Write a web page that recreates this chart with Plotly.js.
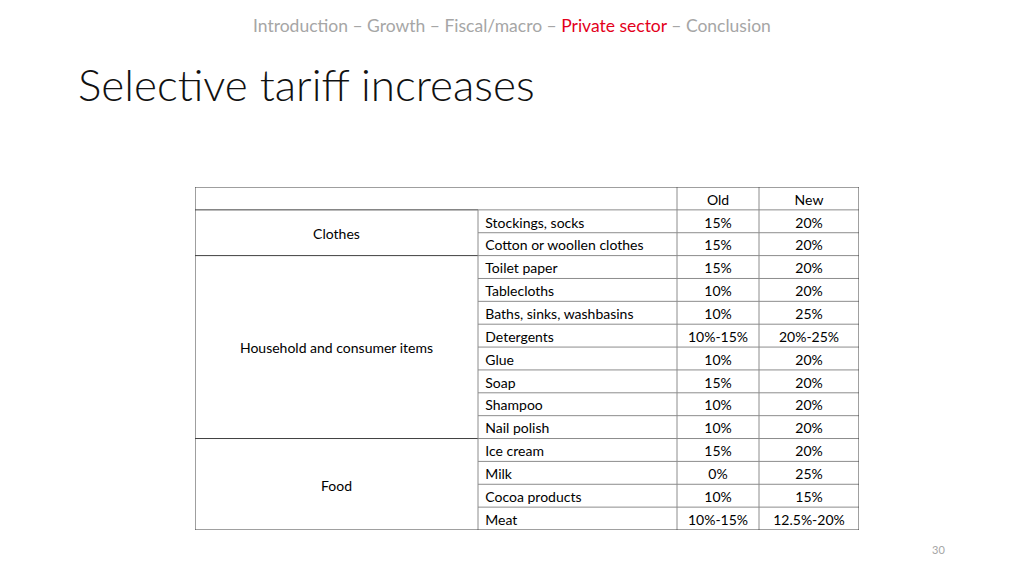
<!DOCTYPE html>
<html>
<head>
<meta charset="utf-8">
<script src="https://cdn.plot.ly/plotly-3.0.1.min.js"></script>
<style>html,body{margin:0;padding:0;background:#fff;}#chart{width:1024px;height:576px;}</style>
</head>
<body>
<div id="chart"></div>
<script>
// ---- data ----
const headerLabels = ["", "Old", "New"];
const groups = ["Clothes", "Household and consumer items", "Food"];
const groupSizes = [2, 8, 4];
const items = ["Stockings, socks", "Cotton or woollen clothes", "Toilet paper", "Tablecloths",
  "Baths, sinks, washbasins", "Detergents", "Glue", "Soap", "Shampoo", "Nail polish",
  "Ice cream", "Milk", "Cocoa products", "Meat"];
const oldRates = ["15%", "15%", "15%", "10%", "10%", "10%-15%", "10%", "15%", "10%", "10%",
  "15%", "0%", "10%", "10%-15%"];
const newRates = ["20%", "20%", "20%", "20%", "25%", "20%-25%", "20%", "20%", "20%", "20%",
  "20%", "25%", "15%", "12.5%-20%"];

// ---- layout (column edges as fractions of table width) ----
const colEdges = [0, 0.4262, 0.7259, 0.8494, 1];
const nRows = items.length + 1;
const FONT = "Lato, 'Open Sans', sans-serif";
const inner = "#8c8c8c", outer = "#404040";
const TEXT_SHIFT = 0.62; // text centre within a row (fraction from the row's top)

const shapes = [];
function hline(y, x0, x1, c) { shapes.push({type:"line", xref:"x", yref:"y", x0:x0, x1:x1, y0:y, y1:y, line:{color:c, width:1}}); }
function vline(x, y0, y1, c) { shapes.push({type:"line", xref:"x", yref:"y", x0:x, x1:x, y0:y0, y1:y1, line:{color:c, width:1}}); }

for (let r = 1; r < nRows; r++) hline(r, colEdges[1], colEdges[4], inner);
let cum = 1;
const groupMid = [];
groupSizes.forEach((s) => {
  groupMid.push(cum + s / 2 + (TEXT_SHIFT - 0.5));
  hline(cum, colEdges[0], colEdges[1], outer);
  cum += s;
});
vline(colEdges[1], 1, nRows, inner);
vline(colEdges[2], 0, nRows, inner);
vline(colEdges[3], 0, nRows, inner);
shapes.push({type:"rect", xref:"x", yref:"y", x0:0, x1:1, y0:0, y1:nRows, line:{color:outer, width:1}});

const rowMid = items.map((_, i) => i + 1 + TEXT_SHIFT);
const c2 = (colEdges[2] + colEdges[3]) / 2, c3 = (colEdges[3] + colEdges[4]) / 2;
const txtFont = {family: FONT, size: 14, color: "#000"};

const traces = [
  {type:"scatter", mode:"text", x: groupMid.map(() => (colEdges[0] + colEdges[1]) / 2), y: groupMid,
   text: groups, textposition:"middle center", textfont: txtFont, hoverinfo:"skip", showlegend:false},
  {type:"scatter", mode:"text", x: items.map(() => colEdges[1] + 0.011), y: rowMid,
   text: items, textposition:"middle right", textfont: txtFont, hoverinfo:"skip", showlegend:false},
  {type:"scatter", mode:"text", x: [c2, c3].concat(oldRates.map(() => c2), newRates.map(() => c3)),
   y: [TEXT_SHIFT, TEXT_SHIFT].concat(rowMid, rowMid),
   text: headerLabels.slice(1).concat(oldRates, newRates), textposition:"middle center",
   textfont: txtFont, hoverinfo:"skip", showlegend:false}
];

const layout = {
  width: 1024, height: 576,
  margin: {l: 195, r: 165, t: 187, b: 46, pad: 0},
  paper_bgcolor: "#fff", plot_bgcolor: "#fff",
  xaxis: {range: [0, 1], visible: false, fixedrange: true},
  yaxis: {range: [nRows, 0], visible: false, fixedrange: true},
  shapes: shapes,
  title: {text: "Selective tariff increases", x: 78/1024, xanchor: "left", xref: "container",
          y: 1 - 86/576, yanchor: "middle", yref: "container",
          font: {family: FONT, size: 44, color: "#111", weight: 300}},
  annotations: [
    {xref:"paper", yref:"paper", x: (512-195)/664, y: 1 + (187-25)/343, xanchor:"center", yanchor:"middle",
     text: "Introduction – Growth – Fiscal/macro – <span style='color:#e3001b'>Private sector</span> – Conclusion",
     showarrow:false, font:{family: FONT, size: 17.5, color:"#a6a6a6"}},
    {xref:"paper", yref:"paper", x: (938-195)/664, y: -(549-530)/343, xanchor:"center", yanchor:"middle",
     text: "30", showarrow:false, font:{family: FONT, size: 11, color:"#a6a6a6"}}
  ]
};

Plotly.newPlot("chart", traces, layout, {displayModeBar: false, staticPlot: true});
</script>
</body>
</html>
